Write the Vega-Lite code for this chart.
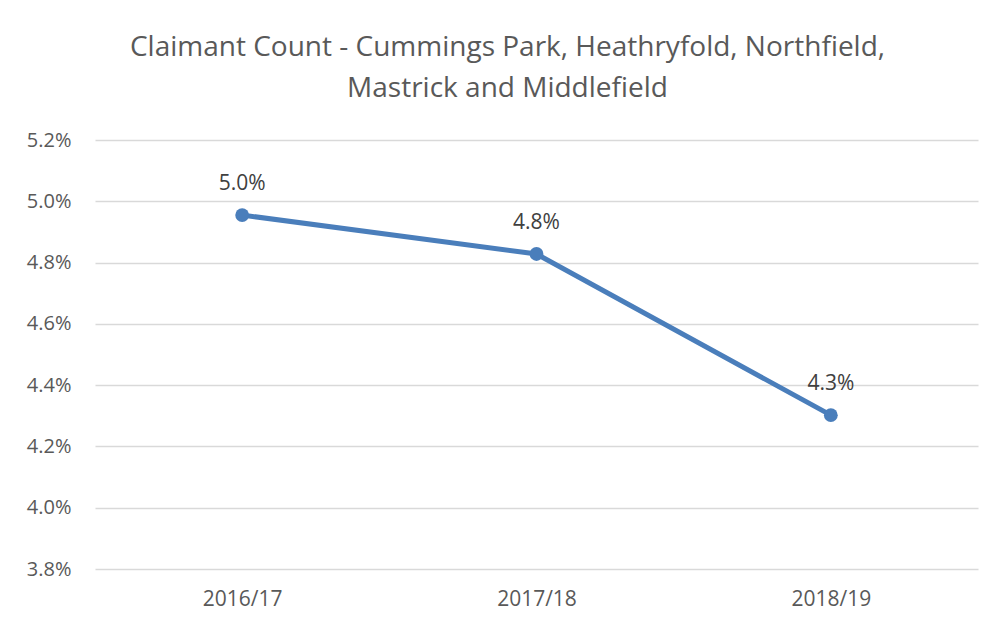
{
  "$schema": "https://vega.github.io/schema/vega-lite/v6.json",
  "autosize": {"type": "none"},
  "width": 883,
  "height": 429,
  "padding": {"left": 95, "top": 140, "right": 18, "bottom": 56},
  "background": "white",
  "title": {
    "text": ["Claimant Count - Cummings Park, Heathryfold, Northfield,", "Mastrick and Middlefield"],
    "font": "Open Sans",
    "fontSize": 28,
    "fontWeight": "normal",
    "color": "#595959",
    "lineHeight": 41,
    "anchor": "middle",
    "dx": -29,
    "offset": 27
  },
  "data": {
    "values": [
      {"year": "2016/17", "rate": 0.04955},
      {"year": "2017/18", "rate": 0.04828},
      {"year": "2018/19", "rate": 0.04302}
    ]
  },
  "encoding": {
    "x": {
      "field": "year",
      "type": "ordinal",
      "scale": {"type": "point", "padding": 0.5},
      "axis": {
        "title": null,
        "labelAngle": 0,
        "labelFont": "Open Sans",
        "labelFontSize": 21,
        "labelColor": "#595959",
        "labelPadding": 19,
        "ticks": false,
        "domain": false,
        "grid": false
      }
    },
    "y": {
      "field": "rate",
      "type": "quantitative",
      "scale": {"domain": [0.038, 0.052], "nice": false, "zero": false},
      "axis": {
        "title": null,
        "format": ".1%",
        "values": [0.038, 0.040, 0.042, 0.044, 0.046, 0.048, 0.050, 0.052],
        "labelFont": "Open Sans",
        "labelFontSize": 20,
        "labelColor": "#595959",
        "labelPadding": 24,
        "ticks": false,
        "domain": false,
        "grid": true,
        "gridColor": "#d9d9d9",
        "gridWidth": 1.5
      }
    }
  },
  "layer": [
    {
      "mark": {"type": "line", "color": "#4A7EBB", "strokeWidth": 5, "point": {"filled": true, "size": 190, "color": "#4A7EBB"}}
    },
    {
      "mark": {"type": "text", "dy": -31, "font": "Open Sans", "fontSize": 21, "color": "#404040"},
      "encoding": {"text": {"field": "rate", "type": "quantitative", "format": ".1%"}}
    }
  ],
  "config": {"view": {"stroke": null}}
}
